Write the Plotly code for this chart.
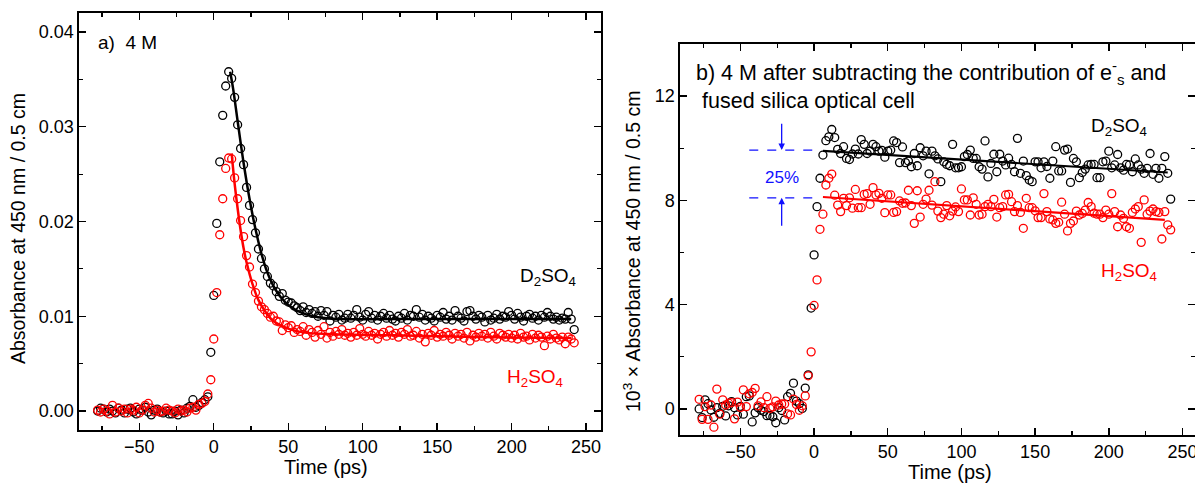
import plotly.graph_objects as go

# ---------------- data ----------------
TIME_PS = [
    -78, -76, -74, -72, -70, -68, -66, -64, -62, -60,
    -58, -56, -54, -52, -50, -48, -46, -44, -42, -40,
    -38, -36, -34, -32, -30, -28, -26, -24, -22, -20,
    -18, -16, -14, -12, -10, -8, -6, -4, -2, 0,
    2, 4, 6, 8, 10, 12, 14, 16, 18, 20,
    22, 24, 26, 28, 30, 32, 34, 36, 38, 40,
    42, 44, 46, 48, 50, 52, 54, 56, 58, 60,
    62, 64, 66, 68, 70, 72, 74, 76, 78, 80,
    82, 84, 86, 88, 90, 92, 94, 96, 98, 100,
    102, 104, 106, 108, 110, 112, 114, 116, 118, 120,
    122, 124, 126, 128, 130, 132, 134, 136, 138, 140,
    142, 144, 146, 148, 150, 152, 154, 156, 158, 160,
    162, 164, 166, 168, 170, 172, 174, 176, 178, 180,
    182, 184, 186, 188, 190, 192, 194, 196, 198, 200,
    202, 204, 206, 208, 210, 212, 214, 216, 218, 220,
    222, 224, 226, 228, 230, 232, 234, 236, 238, 240,
    242,
]

# panel a) absorbance (4 M), D2SO4
A_D2SO4 = [
    0.0000, 0.0003, 0.0002, -0.0001, 0.0002, 0.0000, -0.0002, 0.0003, 0.0001, -0.0002,
    0.0002, 0.0003, -0.0001, -0.0003, 0.0002, 0.0001, 0.0004, -0.0001, -0.0004, 0.0001,
    0.0002, -0.0001, -0.0002, 0.0000, -0.0003, -0.0003, 0.0000, -0.0004, 0.0001, -0.0002,
    0.0003, 0.0005, 0.0012, 0.0004, 0.0006, 0.0009, 0.0012, 0.0015, 0.0062, 0.0122,
    0.0198, 0.0263, 0.0312, 0.0343, 0.0358, 0.0351, 0.0331, 0.0302, 0.0277, 0.0260,
    0.0236, 0.0217, 0.0202, 0.0188, 0.0171, 0.0161, 0.0150, 0.0142, 0.0135, 0.0132,
    0.0126, 0.0121, 0.0124, 0.0117, 0.0115, 0.0114, 0.0111, 0.0109, 0.0106, 0.0110,
    0.0104, 0.0107, 0.0103, 0.0105, 0.0100, 0.0106, 0.0101, 0.0105, 0.0095, 0.0101,
    0.0099, 0.0102, 0.0096, 0.0098, 0.0102, 0.0098, 0.0101, 0.0107, 0.0099, 0.0096,
    0.0102, 0.0105, 0.0098, 0.0101, 0.0096, 0.0100, 0.0103, 0.0098, 0.0101, 0.0097,
    0.0095, 0.0100, 0.0098, 0.0103, 0.0096, 0.0101, 0.0100, 0.0107, 0.0099, 0.0102,
    0.0096, 0.0100, 0.0098, 0.0095, 0.0101, 0.0099, 0.0104, 0.0097, 0.0100, 0.0096,
    0.0106, 0.0100, 0.0098, 0.0095, 0.0105, 0.0106, 0.0100, 0.0097, 0.0101, 0.0099,
    0.0094, 0.0101, 0.0096, 0.0098, 0.0102, 0.0097, 0.0100, 0.0099, 0.0105, 0.0101,
    0.0097, 0.0103, 0.0099, 0.0095, 0.0100, 0.0102, 0.0098, 0.0100, 0.0096, 0.0101,
    0.0099, 0.0104, 0.0100, 0.0097, 0.0099, 0.0096, 0.0098, 0.0097, 0.0104, 0.0097,
    0.0086,
]

# panel a) absorbance (4 M), H2SO4
A_H2SO4 = [
    0.0001, -0.0001, 0.0002, 0.0000, -0.0003, 0.0006, -0.0001, 0.0003, 0.0000, 0.0002,
    -0.0002, 0.0002, 0.0001, 0.0004, -0.0002, 0.0001, 0.0006, 0.0008, 0.0003, -0.0001,
    0.0001, -0.0001, 0.0000, 0.0003, 0.0001, 0.0000, -0.0002, 0.0002, 0.0000, 0.0001,
    -0.0001, 0.0003, 0.0004, 0.0001, 0.0007, 0.0008, 0.0010, 0.0018, 0.0033, 0.0076,
    0.0125, 0.0186, 0.0224, 0.0256, 0.0267, 0.0266, 0.0246, 0.0224, 0.0201, 0.0184,
    0.0164, 0.0152, 0.0134, 0.0125, 0.0116, 0.0110, 0.0107, 0.0103, 0.0099, 0.0100,
    0.0095, 0.0094, 0.0085, 0.0091, 0.0088, 0.0090, 0.0083, 0.0086, 0.0084, 0.0089,
    0.0080, 0.0086, 0.0083, 0.0078, 0.0085, 0.0081, 0.0089, 0.0077, 0.0083, 0.0079,
    0.0084, 0.0081, 0.0086, 0.0080, 0.0082, 0.0078, 0.0083, 0.0080, 0.0087, 0.0081,
    0.0079, 0.0084, 0.0080, 0.0082, 0.0076, 0.0081, 0.0083, 0.0079, 0.0085, 0.0080,
    0.0082, 0.0078, 0.0083, 0.0081, 0.0086, 0.0079, 0.0080, 0.0084, 0.0077, 0.0081,
    0.0073, 0.0082, 0.0080, 0.0085, 0.0078, 0.0081, 0.0079, 0.0083, 0.0080, 0.0076,
    0.0082, 0.0079, 0.0081, 0.0077, 0.0083, 0.0074, 0.0080, 0.0078, 0.0082, 0.0079,
    0.0081, 0.0077, 0.0083, 0.0079, 0.0076, 0.0082, 0.0080, 0.0078, 0.0081, 0.0077,
    0.0080, 0.0076, 0.0082, 0.0078, 0.0079, 0.0075, 0.0081, 0.0077, 0.0080, 0.0078,
    0.0069, 0.0079, 0.0076, 0.0081, 0.0077, 0.0075, 0.0078, 0.0071, 0.0078, 0.0076,
    0.0072,
]

# panel a) fitted decays (read from the drawn curves)
FIT_A_D2SO4_T = [11, 13, 16, 20, 24, 28, 32, 36, 40, 45, 50, 60, 70, 85, 120, 240]
FIT_A_D2SO4_Y = [0.0358, 0.0340, 0.0306, 0.0262, 0.0224, 0.0192, 0.0166, 0.0146,
                 0.0132, 0.0120, 0.0112, 0.0103, 0.0099, 0.0097, 0.0097, 0.0097]
FIT_A_H2SO4_T = [12, 14, 16, 18, 20, 22, 26, 30, 35, 40, 50, 60, 80, 120, 180, 240]
FIT_A_H2SO4_Y = [0.0272, 0.0240, 0.0214, 0.0191, 0.0172, 0.0157, 0.0134, 0.0117,
                 0.0104, 0.0095, 0.0087, 0.0083, 0.0081, 0.0080, 0.0078, 0.0077]

# panel b) 10^3 x absorbance after subtraction, D2SO4
B_D2SO4 = [
    0.00, -0.33, 0.35, 0.20, -0.04, -0.32, 0.05, -0.17, 0.10, -0.27,
    0.12, 0.28, 0.05, -0.23, 0.10, -0.20, 0.47, 0.50, -0.50, -0.15,
    0.05, -0.05, -0.10, -0.26, -0.25, -0.30, -0.53, 0.05, -0.06, -0.42,
    0.47, 0.60, 0.99, 0.30, 0.20, 0.02, 0.80, 1.31, 3.87, 5.91,
    7.76, 8.85, 9.74, 10.29, 10.44, 10.72, 10.41, 9.96, 9.80, 10.06,
    9.61, 9.57, 9.78, 9.97, 9.78, 10.33, 10.15, 9.80, 9.89, 10.15,
    10.06, 9.89, 9.92, 9.66, 9.89, 9.93, 10.28, 10.22, 9.45, 10.05,
    9.45, 9.51, 9.29, 9.80, 9.33, 10.02, 9.71, 9.89, 9.02, 9.89,
    9.71, 9.59, 8.72, 9.48, 9.38, 9.33, 10.15, 9.25, 9.25, 9.29,
    9.68, 9.76, 9.93, 9.61, 9.61, 9.29, 9.20, 10.28, 8.90, 9.42,
    9.77, 9.10, 9.77, 9.51, 9.36, 9.62, 9.38, 9.10, 10.38, 9.04,
    9.51, 8.95, 8.78, 8.72, 9.48, 9.48, 9.25, 9.48, 9.30, 8.85,
    9.51, 10.06, 9.13, 9.13, 9.93, 9.97, 8.69, 9.61, 9.48, 8.87,
    9.07, 9.20, 9.36, 9.38, 9.38, 8.87, 8.87, 9.48, 9.51, 9.89,
    9.25, 9.36, 9.76, 9.25, 9.16, 9.38, 9.36, 9.10, 9.59, 9.36,
    9.20, 9.04, 9.23, 9.80, 9.00, 9.23, 8.85, 9.23, 9.68, 9.04,
    8.05,
]

# panel b) 10^3 x absorbance after subtraction, H2SO4
B_H2SO4 = [
    0.37, -0.40, 0.09, -0.40, 0.15, -0.70, 0.76, -0.20, 0.35, 0.15,
    0.22, 0.24, -0.38, 0.26, 0.06, 0.73, 0.09, 0.58, 0.63, 0.79,
    0.12, 0.27, 0.05, 0.47, 0.02, 0.08, 0.30, 0.15, 0.19, 0.19,
    -0.19, -0.23, 0.38, 0.17, -0.05, 0.12, 0.50, 1.27, 2.19, 3.97,
    4.95, 6.89, 7.47, 8.59, 8.85, 9.01, 8.20, 7.82, 7.57, 8.08,
    7.80, 8.10, 7.70, 8.42, 7.72, 7.72, 8.23, 8.26, 7.85, 8.49,
    8.21, 8.27, 8.08, 7.53, 8.21, 8.21, 7.54, 7.57, 7.98, 7.89,
    7.90, 8.39, 7.80, 7.12, 8.37, 7.36, 7.85, 8.05, 8.39, 7.82,
    8.72, 7.59, 7.34, 7.47, 7.80, 7.41, 7.59, 7.75, 7.57, 8.44,
    8.02, 8.02, 7.44, 8.10, 7.85, 7.44, 7.47, 7.76, 7.85, 7.76,
    8.04, 7.36, 7.72, 7.76, 8.21, 8.23, 7.95, 7.57, 7.80, 7.54,
    6.93, 8.08, 7.72, 7.72, 7.60, 7.34, 7.34, 8.26, 7.57, 7.29,
    7.25, 7.12, 7.16, 7.93, 7.47, 6.83, 7.12, 7.21, 7.59, 7.44,
    7.50, 7.63, 7.92, 7.76, 7.51, 7.47, 7.47, 7.34, 7.63, 7.47,
    8.26, 7.57, 6.99, 7.44, 7.31, 6.99, 6.93, 7.54, 7.67, 7.76,
    6.39, 8.02, 7.47, 7.59, 7.67, 7.57, 7.54, 6.52, 7.57, 7.06,
    6.87,
]

# panel b) linear fits of the plateau (end points read from the picture)
FIT_B_D2SO4_T = [6, 240]
FIT_B_D2SO4_Y = [9.90, 9.07]
FIT_B_H2SO4_T = [6, 238]
FIT_B_H2SO4_Y = [8.13, 7.25]

# 25 % difference markers in panel b)
LEVEL_D2SO4 = 9.93
LEVEL_H2SO4 = 8.10

# ---------------- styling ----------------
W, H = 1195, 486
FONT = "Liberation Sans, Arial, sans-serif"
BLACK = "#000000"
RED = "#ff0000"
BLUE = "#1010ff"


def px(x):
    return min(max(x / W, 0.0), 1.0)


def py(y):
    return 1 - y / H


fig = go.Figure()

marker_common = dict(symbol="circle-open", size=8, line=dict(width=1.3))

# panel a
fig.add_trace(go.Scatter(x=TIME_PS, y=A_D2SO4, mode="markers", xaxis="x", yaxis="y",
                         marker=dict(color=BLACK, **marker_common), showlegend=False))
fig.add_trace(go.Scatter(x=TIME_PS, y=A_H2SO4, mode="markers", xaxis="x", yaxis="y",
                         marker=dict(color=RED, **marker_common), showlegend=False))
fig.add_trace(go.Scatter(x=FIT_A_D2SO4_T, y=FIT_A_D2SO4_Y, mode="lines", xaxis="x", yaxis="y",
                         line=dict(color=BLACK, width=2.5, shape="spline"), showlegend=False))
fig.add_trace(go.Scatter(x=FIT_A_H2SO4_T, y=FIT_A_H2SO4_Y, mode="lines", xaxis="x", yaxis="y",
                         line=dict(color=RED, width=2.5, shape="spline"), showlegend=False))

# panel b
fig.add_trace(go.Scatter(x=TIME_PS, y=B_D2SO4, mode="markers", xaxis="x2", yaxis="y2",
                         marker=dict(color=BLACK, **marker_common), showlegend=False))
fig.add_trace(go.Scatter(x=TIME_PS, y=B_H2SO4, mode="markers", xaxis="x2", yaxis="y2",
                         marker=dict(color=RED, **marker_common), showlegend=False))
fig.add_trace(go.Scatter(x=FIT_B_D2SO4_T, y=FIT_B_D2SO4_Y, mode="lines", xaxis="x2", yaxis="y2",
                         line=dict(color=BLACK, width=2.2), showlegend=False))
fig.add_trace(go.Scatter(x=FIT_B_H2SO4_T, y=FIT_B_H2SO4_Y, mode="lines", xaxis="x2", yaxis="y2",
                         line=dict(color=RED, width=2.2), showlegend=False))

axis_common = dict(
    showline=True, linecolor=BLACK, linewidth=1.6, mirror="ticks",
    ticks="inside", ticklen=7, tickwidth=1.4, tickcolor=BLACK,
    showgrid=False, zeroline=False, automargin=False, ticklabeloverflow="allow",
    tickfont=dict(family=FONT, size=18, color=BLACK),
)

fig.update_layout(
    width=W, height=H,
    margin=dict(l=0, r=0, t=0, b=0, autoexpand=False),
    paper_bgcolor="white", plot_bgcolor="white",
    font=dict(family=FONT, color=BLACK),
    xaxis=dict(domain=[px(79), px(601)], range=[-90.5, 260], anchor="y",
               dtick=50, tick0=0,
               minor=dict(dtick=25, ticklen=4, tickwidth=1.2, tickcolor=BLACK, ticks="inside"),
               **axis_common),
    yaxis=dict(domain=[py(430), py(13)], range=[-0.002, 0.042], anchor="x",
               dtick=0.01, tick0=0, tickformat=".2f",
               minor=dict(dtick=0.005, ticklen=4, tickwidth=1.2, tickcolor=BLACK, ticks="inside"),
               **axis_common),
    xaxis2=dict(domain=[px(680), 1.0], range=[-91, 258.5], anchor="y2",
                dtick=50, tick0=0,
                minor=dict(dtick=25, ticklen=4, tickwidth=1.2, tickcolor=BLACK, ticks="inside"),
                **axis_common),
    yaxis2=dict(domain=[py(435), py(44)], range=[-1, 14], anchor="x2",
                dtick=4, tick0=0,
                minor=dict(dtick=2, ticklen=4, tickwidth=1.2, tickcolor=BLACK, ticks="inside"),
                **axis_common),
)

# dashed reference levels in panel b
for lvl in (LEVEL_D2SO4, LEVEL_H2SO4):
    fig.add_shape(type="line", xref="x2", yref="y2", x0=-44, x1=0, y0=lvl, y1=lvl,
                  line=dict(color=BLUE, width=1.3, dash="dash"))

ann = []


def text(x, y, s, size=18, color=BLACK, xanchor="left", yanchor="middle", angle=0):
    ann.append(dict(x=px(x), y=py(y), xref="paper", yref="paper", text=s, showarrow=False,
                    xanchor=xanchor, yanchor=yanchor, textangle=angle,
                    font=dict(family=FONT, size=size, color=color)))


# axis titles
text(18, 229, "Absorbance at 450 nm / 0.5 cm", size=19.5, xanchor="center", angle=-90)
text(632, 252, "10<sup>3</sup> × Absorbance at 450 nm / 0.5 cm", size=19.5,
     xanchor="center", angle=-90)
text(326, 467, "Time (ps)", size=20, xanchor="center")
text(950, 472, "Time (ps)", size=20, xanchor="center")

# panel labels
text(96, 43, "a)\u00a0 4 M", size=19)
text(694, 72, "b) 4 M after subtracting the contribution of e<sup>-</sup><sub>s</sub> and", size=21.5)
text(700, 101, "fused silica optical cell", size=21.5)

# species labels
text(518, 277, "D<sub>2</sub>SO<sub>4</sub>", size=19)
text(505, 378, "H<sub>2</sub>SO<sub>4</sub>", size=19, color=RED)
text(1089, 127, "D<sub>2</sub>SO<sub>4</sub>", size=19)
text(1099, 272, "H<sub>2</sub>SO<sub>4</sub>", size=19, color=RED)

# 25 % label and arrows
ann.append(dict(x=-22, y=8.88, xref="x2", yref="y2", text="25%", showarrow=False,
                font=dict(family=FONT, size=17, color=BLUE)))
ann.append(dict(x=-22, y=LEVEL_D2SO4, ax=-22, ay=11.0, xref="x2", yref="y2",
                axref="x2", ayref="y2", text="", showarrow=True, arrowhead=2,
                arrowsize=1, arrowwidth=1.3, arrowcolor=BLUE))
ann.append(dict(x=-22, y=LEVEL_H2SO4, ax=-22, ay=6.97, xref="x2", yref="y2",
                axref="x2", ayref="y2", text="", showarrow=True, arrowhead=2,
                arrowsize=1, arrowwidth=1.3, arrowcolor=BLUE))

fig.update_layout(annotations=ann)

fig.write_html("out.html",
               config={"displayModeBar": False, "staticPlot": True},
               post_script="document.body.style.margin='0';document.body.style.padding='0';"
                           "document.body.style.overflow='hidden';")
